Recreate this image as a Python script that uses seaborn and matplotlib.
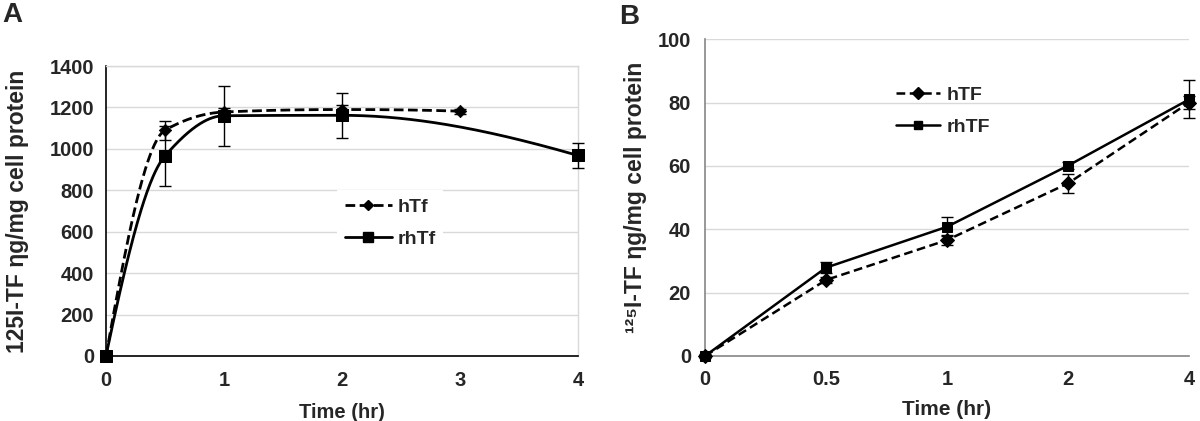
import numpy as np
import pandas as pd
import seaborn as sns
import matplotlib
matplotlib.use('Agg')
import matplotlib.pyplot as plt
from matplotlib.lines import Line2D

# Panel A data (uptake over time, numeric time axis)
a_time_htf = [0, 0.5, 1, 2, 3]
a_htf = [0, 1090, 1178, 1190, 1182]
a_htf_err = [0, 45, 20, 20, 12]
a_time_rhtf = [0, 0.5, 1, 2, 4]
a_rhtf = [0, 966, 1160, 1162, 968]
a_rhtf_err = [0, 145, 145, 108, 58]

# Panel B data (categorical time axis)
b_time_labels = ['0', '0.5', '1', '2', '4']
b_htf = [0, 24.0, 36.6, 54.5, 80.0]
b_htf_err = [0.5, 1.0, 1.5, 3.1, 2.0]
b_rhtf = [0, 27.9, 40.8, 60.1, 81.0]
b_rhtf_err = [0.3, 1.7, 3.0, 1.2, 6.0]

sns.set_theme(style='white')
plt.rcParams['font.family'] = ['Liberation Sans', 'DejaVu Sans']
plt.rcParams['font.weight'] = 'bold'


def smooth_curve(xs, ys, n=80):
    # monotone cubic (PCHIP style) smoothing through the measured points
    x = np.asarray(xs, float)
    y = np.asarray(ys, float)
    h = np.diff(x)
    d = np.diff(y) / h
    m = np.zeros_like(y)
    for k in range(1, len(x) - 1):
        if d[k - 1] * d[k] > 0:
            w1 = 2 * h[k] + h[k - 1]
            w2 = h[k] + 2 * h[k - 1]
            m[k] = (w1 + w2) / (w1 / d[k - 1] + w2 / d[k])
    m[0] = ((2 * h[0] + h[1]) * d[0] - h[0] * d[1]) / (h[0] + h[1])
    m[-1] = ((2 * h[-1] + h[-2]) * d[-1] - h[-1] * d[-2]) / (h[-1] + h[-2])
    if np.sign(m[-1]) != np.sign(d[-1]):
        m[-1] = 0
    cx, cy = [], []
    for k in range(len(x) - 1):
        s = np.linspace(0, 1, n)
        h00 = 2 * s ** 3 - 3 * s ** 2 + 1
        h10 = s ** 3 - 2 * s ** 2 + s
        h01 = -2 * s ** 3 + 3 * s ** 2
        h11 = s ** 3 - s ** 2
        cx.append(x[k] + s * h[k])
        cy.append(h00 * y[k] + h10 * h[k] * m[k] + h01 * y[k + 1] + h11 * h[k] * m[k + 1])
    return np.concatenate(cx), np.concatenate(cy)


fig = plt.figure(figsize=(12, 4.21), dpi=100)
axA = fig.add_axes([0.0883, 0.1544, 0.3934, 0.6888])
axB = fig.add_axes([0.5875, 0.1544, 0.4033, 0.7522])

lw = 2.0
fs = 14.5
dashA = (0, (3.5, 1.6))

# ---- Panel A ----
for t, v, e in [(a_time_htf, a_htf, a_htf_err), (a_time_rhtf, a_rhtf, a_rhtf_err)]:
    axA.errorbar(t, v, yerr=e, fmt='none', ecolor='black', elinewidth=1,
                 capsize=4, capthick=1, zorder=3, clip_on=False)

sx, sy = smooth_curve(a_time_htf, a_htf)
axA.plot(sx, sy, color='black', lw=lw, ls=dashA, zorder=4)
sx, sy = smooth_curve(a_time_rhtf, a_rhtf)
axA.plot(sx, sy, color='black', lw=lw, ls='-', zorder=4)

sns.scatterplot(x=a_time_htf, y=a_htf, marker='D', s=40, color='black',
                edgecolor='black', ax=axA, zorder=5, clip_on=False)
sns.scatterplot(x=a_time_rhtf, y=a_rhtf, marker='s', s=85, color='black',
                edgecolor='black', ax=axA, zorder=5, clip_on=False)

axA.set_xlim(0, 4)
axA.set_ylim(0, 1400)
axA.set_xticks([0, 1, 2, 3, 4])
axA.set_yticks(range(0, 1401, 200))
axA.yaxis.grid(True, color='#d9d9d9', lw=1)
axA.set_axisbelow(True)
for s in ['left', 'bottom']:
    axA.spines[s].set_color('black')
    axA.spines[s].set_linewidth(1.2)
for s in ['top', 'right']:
    axA.spines[s].set_color('#d9d9d9')
    axA.spines[s].set_linewidth(1)
axA.tick_params(axis='both', direction='inout', length=9, width=1.2, color='black',
                labelsize=fs, pad=4)
axA.tick_params(axis='x', pad=6)
for lab in axA.get_xticklabels() + axA.get_yticklabels():
    lab.set_fontweight('bold')
axA.set_xlabel('Time (hr)', fontsize=fs, fontweight='bold', labelpad=10)
axA.set_ylabel('125I-TF \u03b7g/mg cell protein', fontsize=16.5, fontweight='bold')
axA.yaxis.set_label_coords(-0.163, 0.5)

hA = [Line2D([], [], color='black', lw=lw, ls=dashA, marker='D', markersize=5),
      Line2D([], [], color='black', lw=lw, ls='-', marker='s', markersize=7)]
axA.legend(hA, ['hTf', 'rhTf'], loc='upper left', bbox_to_anchor=(0.469, 0.605),
           frameon=True, fancybox=False, edgecolor='none', facecolor='white',
           framealpha=1, handlelength=2.4, handletextpad=0.3,
           labelspacing=0.75, prop={'size': 14, 'weight': 'bold'})

# ---- Panel B ----
pos = np.arange(len(b_time_labels))
for v, e in [(b_htf, b_htf_err), (b_rhtf, b_rhtf_err)]:
    axB.errorbar(pos, v, yerr=e, fmt='none', ecolor='black', elinewidth=1,
                 capsize=4, capthick=1, zorder=3, clip_on=False)

dfB = pd.DataFrame({
    'pos': np.concatenate([pos, pos]),
    'val': b_htf + b_rhtf,
    'series': ['hTF'] * len(pos) + ['rhTF'] * len(pos),
})
sns.lineplot(data=dfB, x='pos', y='val', style='series', markers={'hTF': 'D', 'rhTF': 's'},
             dashes={'hTF': (3.5, 1.8), 'rhTF': ''}, color='black', lw=1.8,
             markersize=7.5, markeredgecolor='black', ax=axB, legend=False,
             zorder=4, clip_on=False)

axB.set_xlim(0, 4)
axB.set_ylim(0, 100)
axB.set_xticks(pos)
axB.set_xticklabels(b_time_labels)
axB.set_yticks(range(0, 101, 20))
axB.yaxis.grid(True, color='#d9d9d9', lw=1)
axB.set_axisbelow(True)
for s in ['top', 'right']:
    axB.spines[s].set_visible(False)
for s in ['left', 'bottom']:
    axB.spines[s].set_color('#868686')
    axB.spines[s].set_linewidth(1.2)
axB.tick_params(axis='both', direction='out', length=6, width=1.2, color='#868686',
                labelsize=fs, pad=4)
for lab in axB.get_xticklabels() + axB.get_yticklabels():
    lab.set_fontweight('bold')
axB.set_xlabel('Time (hr)', fontsize=15, fontweight='bold', labelpad=8)
axB.set_ylabel('\u00b9\u00b2\u2075I-TF \u03b7g/mg cell protein', fontsize=16.5,
               fontweight='bold')
axB.yaxis.set_label_coords(-0.12, 0.5)

hB = [Line2D([], [], color='black', lw=1.8, ls=(0, (3.5, 1.8)), marker='D', markersize=6),
      Line2D([], [], color='black', lw=1.8, ls='-', marker='s', markersize=6)]
axB.legend(hB, ['hTF', 'rhTF'], loc='upper left', bbox_to_anchor=(0.358, 0.908),
           frameon=False, handlelength=2.3, handletextpad=0.3, labelspacing=0.75,
           prop={'size': 14, 'weight': 'bold'})

fig.text(0.002, 0.995, 'A', fontsize=20, fontweight='bold', va='top', ha='left')
fig.text(0.516, 0.99, 'B', fontsize=20, fontweight='bold', va='top', ha='left')

fig.savefig('out.png', dpi=100, facecolor='white')
